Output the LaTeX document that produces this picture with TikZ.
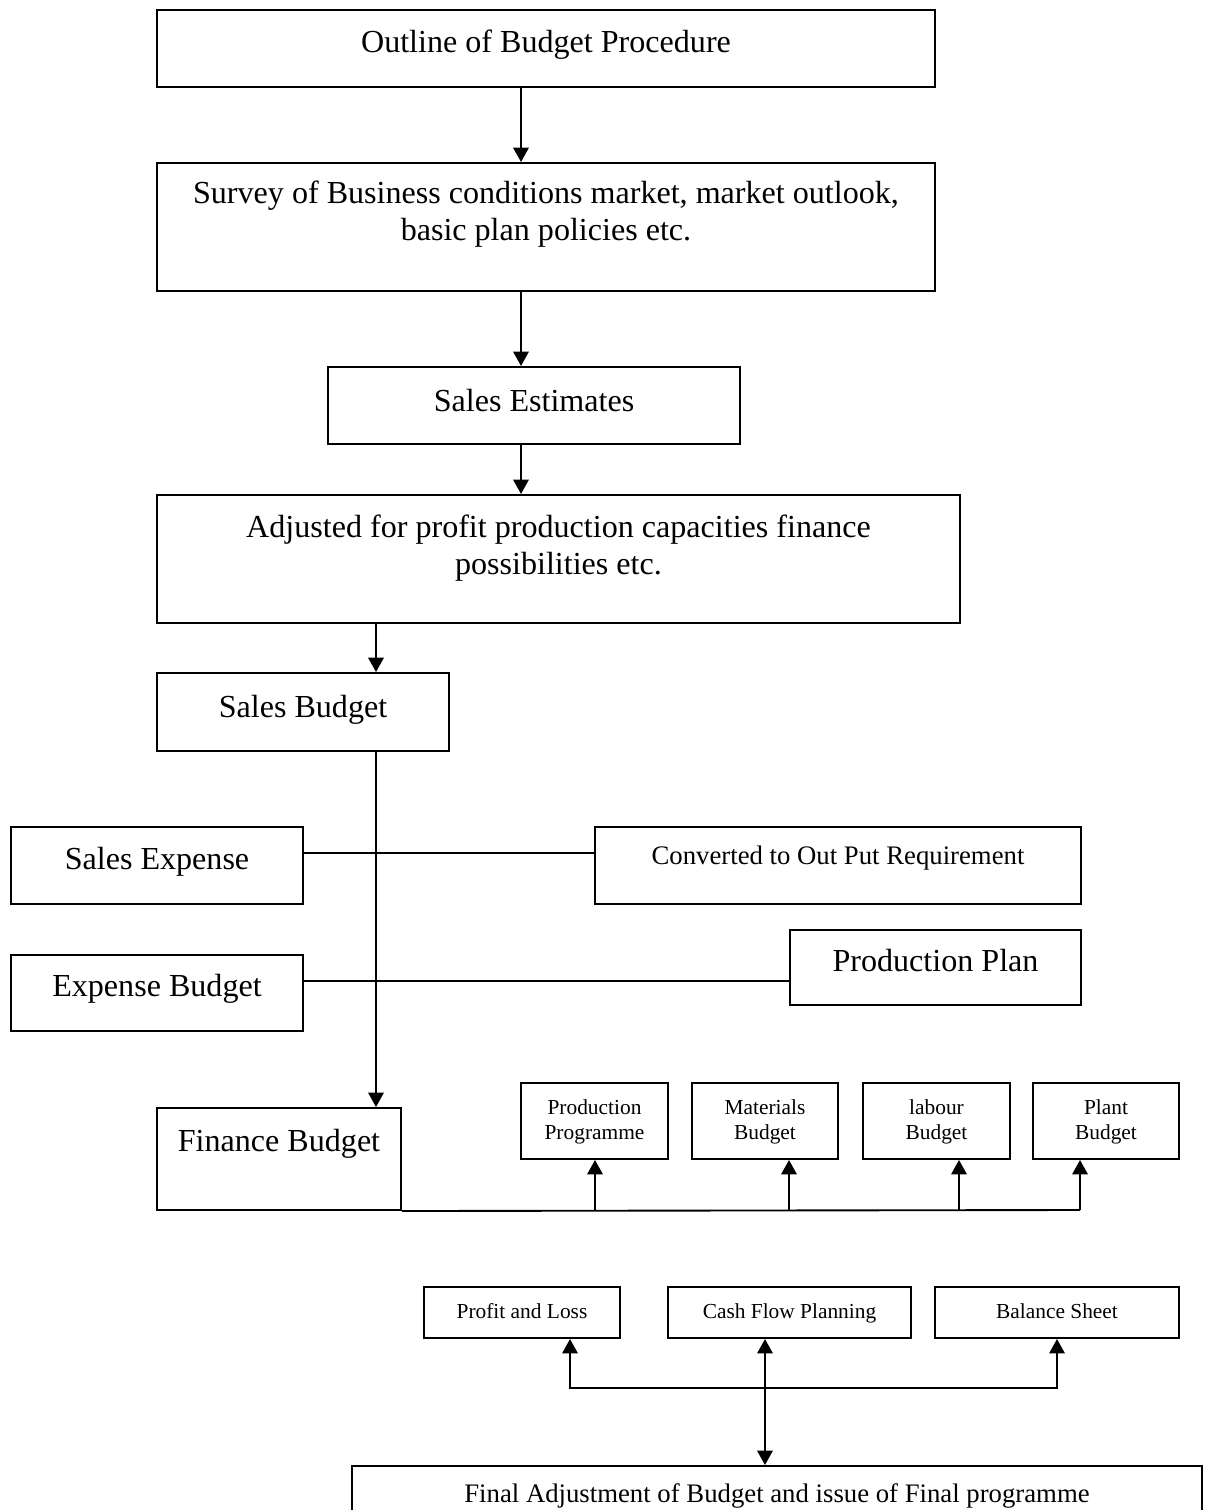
\documentclass[tikz,border=0pt]{standalone}
\usepackage{fontspec}
\setmainfont{Liberation Serif}
\usetikzlibrary{arrows.meta}
\newdimen\pxu
\pxu=0.374pt

\begin{document}
\begin{tikzpicture}[x=0.374pt, y=-0.374pt, line width=0.7pt,
  >={Triangle[length=5.4pt,width=5.8pt]},
  box/.style={draw, rectangle, inner sep=0pt, line width=0.75pt},
  txt/.style={align=center, inner sep=0pt, anchor=center, font=\fontsize{12}{13.8}\selectfont},
  midtxt/.style={txt, font=\fontsize{10}{11.5}\selectfont},
  smalltxt/.style={txt, font=\fontsize{8}{9.3}\selectfont}]

\useasboundingbox (0,0) rectangle (1210,1510);
\clip (0,0) rectangle (1210,1510);

\node[box, minimum width=778\pxu, minimum height=77\pxu,
  label={[txt, yshift=-36\pxu]north:Outline of Budget Procedure}] (outline) at (546,48.5) {};
\node[box, minimum width=778\pxu, minimum height=128\pxu,
  label={[txt, yshift=-52.5\pxu]north:Survey of Business conditions market, market outlook,\\basic plan policies etc.}] (survey) at (546,227) {};
\node[box, minimum width=412\pxu, minimum height=77\pxu,
  label={[txt, yshift=-35\pxu]north:Sales Estimates}] (estimates) at (534,405.5) {};
\node[box, minimum width=803\pxu, minimum height=128\pxu,
  label={[txt, yshift=-54.5\pxu]north:Adjusted for profit production capacities finance\\possibilities etc.}] (adjusted) at (558.5,559) {};
\node[box, minimum width=292\pxu, minimum height=78\pxu,
  label={[txt, yshift=-38\pxu]north:Sales Budget}] (salesbud) at (303,712) {};

\node[box, minimum width=292\pxu, minimum height=77\pxu,
  label={[txt, yshift=-36\pxu]north:Sales Expense}] (salesexp) at (157,865.5) {};
\node[box, minimum width=486\pxu, minimum height=77\pxu,
  label={[midtxt, yshift=-32\pxu]north:Converted to Out Put Requirement}] (converted) at (838,865.5) {};
\node[box, minimum width=292\pxu, minimum height=76\pxu,
  label={[txt, yshift=-35\pxu]north:Expense Budget}] (expbud) at (157,993) {};
\node[box, minimum width=291\pxu, minimum height=75\pxu,
  label={[txt, yshift=-32\pxu]north:Production Plan}] (prodplan) at (935.5,967.5) {};
\node[box, minimum width=244\pxu, minimum height=102\pxu,
  label={[txt, yshift=-37\pxu]north:Finance Budget}] (finance) at (279,1159) {};

% the four sub budgets
\node[box, minimum width=147\pxu, minimum height=76\pxu,
  label={[smalltxt, yshift=-39.5\pxu]north:Production\\Programme}] (progr) at (594.5,1121) {};
\node[box, minimum width=146\pxu, minimum height=76\pxu,
  label={[smalltxt, yshift=-39.5\pxu]north:Materials\\Budget}] (mater) at (765,1121) {};
\node[box, minimum width=147\pxu, minimum height=76\pxu,
  label={[smalltxt, yshift=-39.5\pxu]north:labour\\Budget}] (labour) at (936.5,1121) {};
\node[box, minimum width=146\pxu, minimum height=76\pxu,
  label={[smalltxt, yshift=-39.5\pxu]north:Plant\\Budget}] (plant) at (1106,1121) {};

\node[box, minimum width=196\pxu, minimum height=51\pxu,
  label={[smalltxt, yshift=-25\pxu]north:Profit and Loss}] (pnl) at (522,1312.5) {};
\node[box, minimum width=243\pxu, minimum height=51\pxu,
  label={[smalltxt, yshift=-27\pxu]north:Cash Flow Planning}] (cash) at (789.5,1312.5) {};
\node[box, minimum width=244\pxu, minimum height=51\pxu,
  label={[smalltxt, yshift=-25\pxu]north:Balance Sheet}] (balance) at (1057,1312.5) {};

\node[box, minimum width=850\pxu, minimum height=100\pxu,
  label={[midtxt, yshift=-31\pxu]north:Final Adjustment of Budget and issue of Final programme}] (final) at (777,1516) {};

% main flow
\coordinate (spine) at (521,0);
\coordinate (trunk) at (376,0);
\draw[->] (outline.south -| spine) -- (survey.north -| spine);
\draw[->] (survey.south -| spine) -- (estimates.north -| spine);
\draw[->] (estimates.south -| spine) -- (adjusted.north -| spine);
\draw[->] (adjusted.south -| trunk) -- (salesbud.north -| trunk);
\draw[->] (salesbud.south -| trunk) -- (finance.north -| trunk);

\coordinate (row1) at (0,853);
\coordinate (row2) at (0,981);
\draw (salesexp.east |- row1) -- (converted.west |- row1);
\draw (expbud.east |- row2) -- (prodplan.west |- row2);

% bus under the finance budget
\coordinate (b1) at (595,1210);
\coordinate (b2) at (789,1210);
\coordinate (b3) at (959,1210);
\coordinate (b4) at (1080,1210);
\draw (finance.south east) -- (b4);
\draw[->] (b1) -- (b1 |- progr.south);
\draw[->] (b2) -- (b2 |- mater.south);
\draw[->] (b3) -- (b3 |- labour.south);
\draw[->] (b4) -- (b4 |- plant.south);

% statements
\coordinate (f1) at (570,1388);
\coordinate (f2) at (1057,1388);
\coordinate (f3) at (765,0);
\draw[<->] (f1 |- pnl.south) -- (f1) -- (f2) -- (f2 |- balance.south);
\draw[<->] (cash.south -| f3) -- (final.north -| f3);

\end{tikzpicture}
\end{document}
